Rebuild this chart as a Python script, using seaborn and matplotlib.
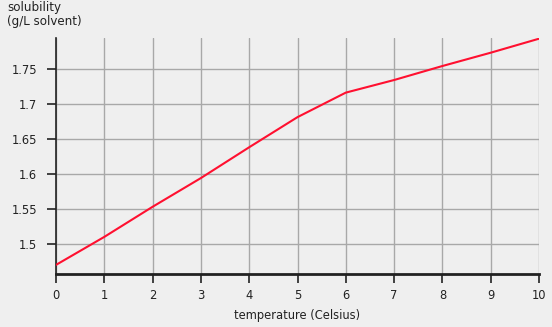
import matplotlib
matplotlib.use("Agg")
import matplotlib.pyplot as plt
import seaborn as sns
import pandas as pd

temperature = [0, 1, 2, 3, 4, 5, 6, 7, 8, 9, 10]
solubility = [1.470, 1.510, 1.553, 1.594, 1.638, 1.681, 1.716, 1.734, 1.754, 1.773, 1.793]
xticks = [0, 1, 2, 3, 4, 5, 6, 7, 8, 9, 10]
yticks = [1.5, 1.55, 1.6, 1.65, 1.7, 1.75]
ytick_labels = ["1.5", "1.55", "1.6", "1.65", "1.7", "1.75"]

sns.set_style("white")
plt.rcParams['font.family'] = ['DejaVu Sans']

df = pd.DataFrame({"temperature": temperature, "solubility": solubility})

bg = "#efefef"
fig = plt.figure(figsize=(5.52, 3.27), dpi=100, facecolor=bg)
ax = fig.add_axes([56/552, 1 - 274/327, (539-56)/552, (274-38)/327])
ax.set_facecolor(bg)

sns.lineplot(data=df, x="temperature", y="solubility", ax=ax, color="#ff1030", linewidth=1.5, zorder=3)

ax.set_xlim(0, 10)
ax.set_ylim(1.457, 1.794)
ax.set_xticks(xticks)
ax.set_yticks(yticks)
ax.set_yticklabels(ytick_labels)
ax.grid(True, color="#a8a8a8", linewidth=1)
ax.set_axisbelow(True)
for s in ["top", "right"]:
    ax.spines[s].set_visible(False)
ax.spines["left"].set_color("#222222")
ax.spines["left"].set_linewidth(1.2)
ax.spines["bottom"].set_color("#222222")
ax.spines["bottom"].set_linewidth(2)
ax.tick_params(axis="both", direction="out", length=6.5, width=1.2, color="#222222",
               labelsize=8.3, labelcolor="#222222", bottom=True, left=True)
ax.tick_params(axis="y", pad=7)
ax.tick_params(axis="x", pad=4.5)
ax.set_xlabel("temperature (Celsius)", fontsize=8.3, color="#222222", labelpad=5)
ax.set_ylabel("")
fig.text(7/552, 1 - 1/327, "solubility\n(g/L solvent)", ha="left", va="top",
         fontsize=8.6, color="#222222", linespacing=1.15)

fig.savefig("out.png", dpi=100, facecolor=bg)
